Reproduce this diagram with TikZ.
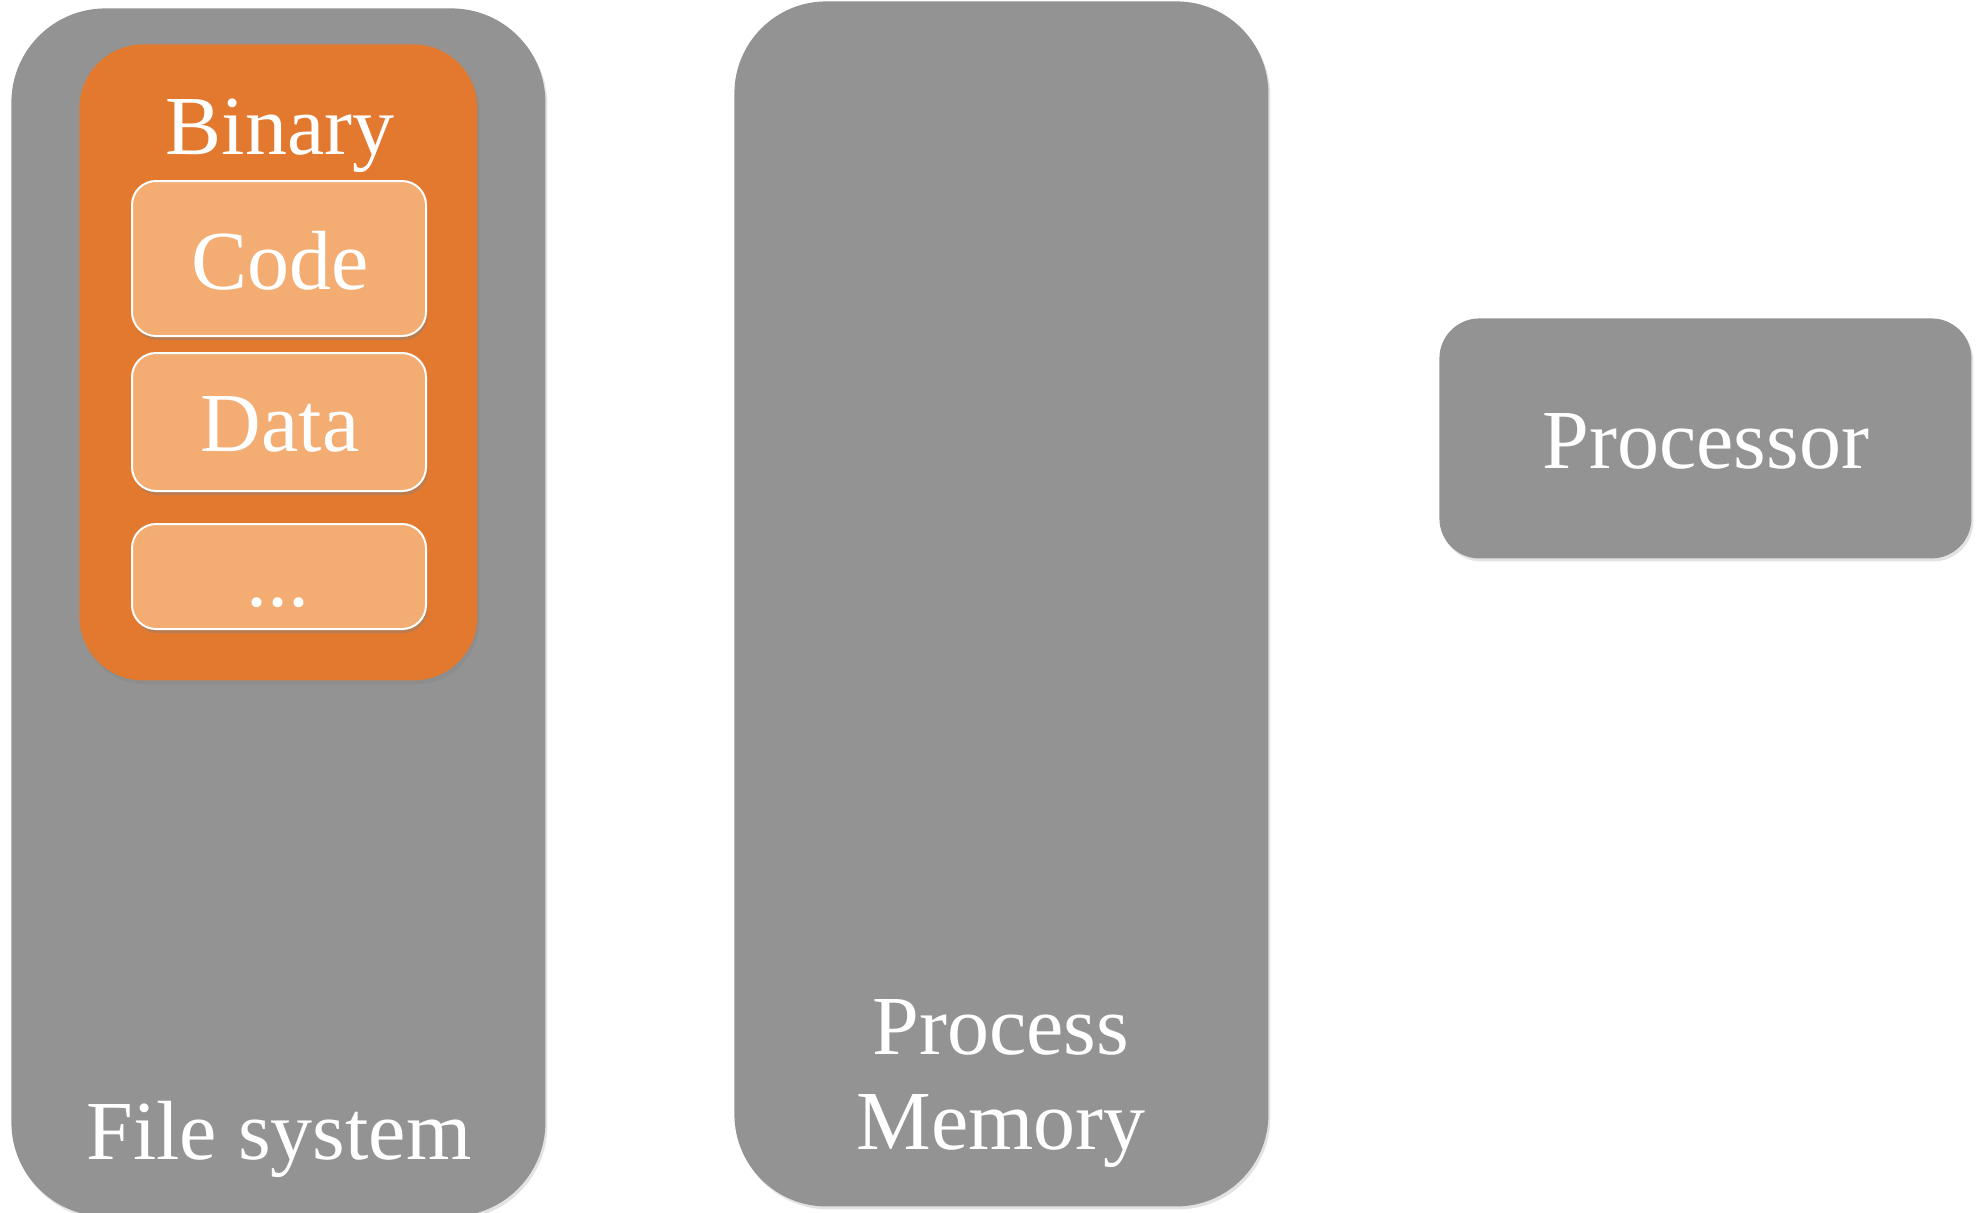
\documentclass[tikz,border=0pt]{standalone}
\usepackage{fontspec}
\setmainfont{Liberation Serif}
\usetikzlibrary{shadows}
\definecolor{boxgray}{HTML}{929392}
\definecolor{binorange}{HTML}{E2792F}
\definecolor{seclight}{HTML}{F3AC72}
\begin{document}
\begin{tikzpicture}[x=0.5pt,y=-0.5pt,
  panel/.style={fill=boxgray, draw=none, inner sep=0pt, anchor=north west,
    drop shadow={shadow xshift=1pt, shadow yshift=-1.5pt, opacity=0.22}},
  binbox/.style={fill=binorange, draw=none, inner sep=0pt, anchor=north west,
    rounded corners=32pt,
    drop shadow={shadow xshift=1pt, shadow yshift=-2pt, opacity=0.3}},
  section/.style={fill=seclight, draw=white, line width=1pt, inner sep=0pt,
    anchor=north west, rounded corners=12pt, minimum width=147pt,
    drop shadow={shadow xshift=0.8pt, shadow yshift=-2pt, opacity=0.4}},
  lbl/.style={text=white, inner sep=0pt, anchor=base,
    font=\fontsize{42pt}{47.5pt}\selectfont}]
\useasboundingbox (0,0) rectangle (1984,1212);
\fill[white] (0,0) rectangle (1984,1212);

% file system column with the binary inside
\node[panel, rounded corners=47pt, minimum width=267pt, minimum height=604pt]
  (fs) at (11,8) {};
\node[binbox, minimum width=199pt, minimum height=318pt] (bin) at (79,44) {};
\node[section, minimum height=77.5pt] (code) at (131,180) {};
\node[section, minimum height=69pt] (data) at (131,352) {};
\node[section, minimum height=52.5pt] (more) at (131,523) {};

\node[lbl] (bin-t) at (280,154) {Binary};
\node[lbl] (code-t) at (280,289) {Code};
\node[lbl] (data-t) at (280,451) {Data};
\node[lbl] (more-t) at (278,606) {...};
\node[lbl] (fs-t) at (279,1159) {File system};

% process memory column
\node[panel, rounded corners=46pt, minimum width=267pt, minimum height=602.5pt]
  (pm) at (734,1) {};
\node[lbl] (pm-t1) at (1001,1054) {Process};
\node[lbl] (pm-t2) at (1001,1149) {Memory};

% processor
\node[panel, rounded corners=20pt, minimum width=266pt, minimum height=120pt]
  (cpu) at (1439,318) {};
\node[lbl] (cpu-t) at (1706,468) {Processor};
\end{tikzpicture}
\end{document}
